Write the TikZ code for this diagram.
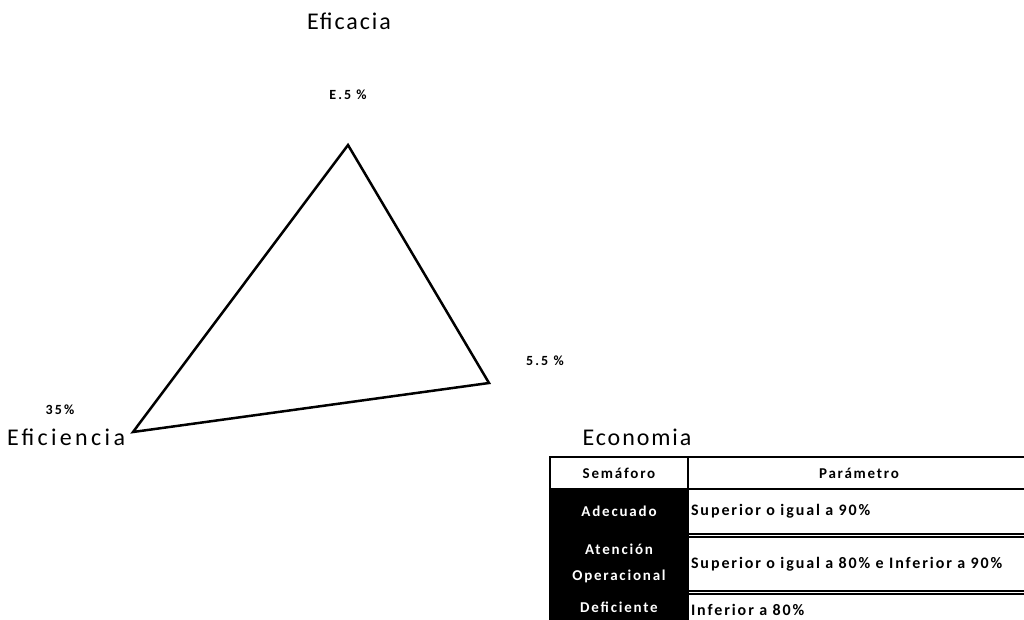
\documentclass[tikz,border=0pt]{standalone}
\usepackage{fontspec}
\setmainfont{Carlito}[LetterSpace=8]
\newfontfamily\widefont{Carlito}[LetterSpace=14]
\newfontfamily\tabfont{Carlito}[LetterSpace=12]
\newfontfamily\pctfont{Carlito}[LetterSpace=15]
\begin{document}
\begin{tikzpicture}[x=1pt,y=-1pt,
  title/.style={font=\fontsize{24}{28}\selectfont, inner sep=0pt},
  pct/.style={font=\pctfont\bfseries\fontsize{14}{16}\selectfont, inner sep=0pt},
  hcell/.style={draw=black, line width=1.5pt, fill=white, font=\tabfont\bfseries\fontsize{15}{16}\selectfont, minimum height=32pt, inner sep=0pt},
  bcell/.style={draw=black, line width=1.5pt, fill=black, text=white, font=\tabfont\bfseries\fontsize{15}{26}\selectfont, minimum width=138pt, inner sep=0pt, align=center},
  dcell/.style={draw=black, line width=1.5pt, fill=white, font=\tabfont\bfseries\fontsize{16}{18}\selectfont, text width=336pt, minimum width=342pt, inner sep=3pt, align=left},
  tri/.style={draw=black, line width=2.5pt, line join=miter}]
\useasboundingbox (0,0) rectangle (1024,620);
\clip (0,0) rectangle (1024,620);
% triangle
\coordinate (top) at (348,145);
\coordinate (right) at (489,383);
\coordinate (left) at (133,432);
\draw[tri] (top) -- (right) -- (left) -- cycle;
% labels
\node[title] (eficacia) at (349,21) {Eficacia};
\node[pct] (ptop) at (348,95) {E.5 \%};
\node[pct] (pright) at (545,361) {5.5 \%};
\node[pct] (pleft) at (60,410) {35\%};
\node[title, font=\widefont\fontsize{24}{28}\selectfont, anchor=west] (eficiencia) at (7,437) {Eficiencia};
\node[title] (economia) at (637,437) {Economia};
% table
\node[hcell, minimum width=138pt] (sem) at (619,473) {Semáforo};
\node[hcell, minimum width=342pt] (par) at (859,473) {Parámetro};
\node[bcell, minimum height=45pt] (ade) at (619,511.5) {Adecuado};
\node[bcell, minimum height=58pt] (ate) at (619,563) {Atención\\Operacional};
\node[bcell, minimum height=30pt] (def) at (619,607) {Deficiente};
\node[dcell, minimum height=45pt] (adep) at (859,511.5) {Superior o igual a 90\%};
\node[dcell, minimum height=54pt] (atep) at (859,564) {Superior o igual a 80\% e Inferior a 90\%};
\node[dcell, minimum height=31pt] (defp) at (859,609.5) {Inferior a 80\%};
\end{tikzpicture}
\end{document}
